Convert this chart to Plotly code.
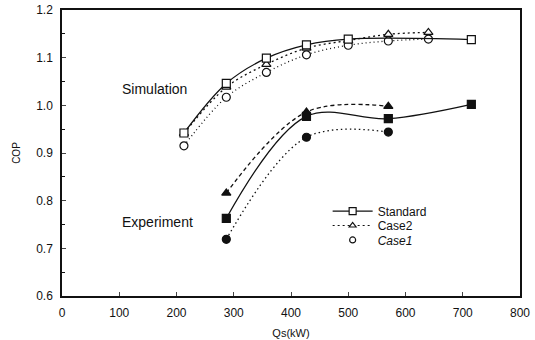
import plotly.graph_objects as go

# Simulation data
sim_std_x = [213, 287, 357, 427, 500, 715]
sim_std_y = [0.942, 1.046, 1.099, 1.127, 1.139, 1.138]
sim_c2_x = [213, 287, 357, 427, 500, 570, 640]
sim_c2_y = [0.941, 1.038, 1.086, 1.120, 1.136, 1.149, 1.153]
sim_c1_x = [213, 287, 357, 427, 500, 570, 640]
sim_c1_y = [0.915, 1.017, 1.069, 1.106, 1.126, 1.135, 1.139]

# Experiment data
exp_std_x = [287, 427, 570, 715]
exp_std_y = [0.763, 0.977, 0.972, 1.002]
exp_c2_x = [287, 427, 570]
exp_c2_y = [0.816, 0.986, 0.998]
exp_c1_x = [287, 427, 570]
exp_c1_y = [0.719, 0.933, 0.944]

x_ticks = [0, 100, 200, 300, 400, 500, 600, 700, 800]
y_ticks = [0.6, 0.7, 0.8, 0.9, 1.0, 1.1, 1.2]
y_tick_text = ["0.6", "0.7", "0.8", "0.9", "1.0", "1.1", "1.2"]
legend_names = ["Standard", "Case2", "Case1"]

FONT = "Liberation Sans, Arial, sans-serif"
BLACK = "#111111"

fig = go.Figure()

def add(x, y, symbol, filled, dash, name, size=8):
    fig.add_trace(go.Scatter(
        x=x, y=y, mode="lines+markers", name=name, showlegend=False,
        line=dict(color=BLACK, width=1.3, dash=dash, shape="spline", smoothing=1.0),
        marker=dict(symbol=symbol, size=size, color=BLACK if filled else "white",
                    line=dict(color=BLACK, width=1.2)),
    ))

add(sim_c1_x, sim_c1_y, "circle", False, "1px,3px", "Case1 sim")
add(sim_c2_x, sim_c2_y, "triangle-up", False, "2px,3px", "Case2 sim")
add(sim_std_x, sim_std_y, "square", False, "solid", "Standard sim")
add(exp_c1_x, exp_c1_y, "circle", True, "1.5px,3px", "Case1 exp")
add(exp_c2_x, exp_c2_y, "triangle-up", True, "4px,3px", "Case2 exp")
add(exp_std_x, exp_std_y, "square", True, "solid", "Standard exp")

# Legend-only entries, each in its own legend for tight spacing
fig.add_trace(go.Scatter(x=[None], y=[None], mode="lines+markers", name=legend_names[0],
                         legend="legend",
                         line=dict(color=BLACK, width=1.3),
                         marker=dict(symbol="square", size=7, color="white",
                                     line=dict(color=BLACK, width=1.2))))
fig.add_trace(go.Scatter(x=[None], y=[None], mode="lines+markers", name=legend_names[1],
                         legend="legend2",
                         line=dict(color=BLACK, width=1.2, dash="2px,3px"),
                         marker=dict(symbol="triangle-up", size=6, color="white",
                                     line=dict(color=BLACK, width=1.2))))
fig.add_trace(go.Scatter(x=[None], y=[None], mode="markers", name=legend_names[2],
                         legend="legend3",
                         marker=dict(symbol="circle", size=6, color="white",
                                     line=dict(color=BLACK, width=1.2))))

fig.add_annotation(x=162, y=1.034, text="Simulation", showarrow=False,
                   font=dict(family=FONT, size=14, color=BLACK))
fig.add_annotation(x=166, y=0.755, text="Experiment", showarrow=False,
                   font=dict(family=FONT, size=14, color=BLACK))

leg_common = dict(xanchor="left", yanchor="middle", bgcolor="rgba(0,0,0,0)",
                  itemwidth=40, borderwidth=0)
leg_font = dict(size=12, family=FONT, color=BLACK)

fig.update_layout(
    width=535, height=340,
    margin=dict(l=62, r=15, t=10, b=44),
    paper_bgcolor="white", plot_bgcolor="white",
    font=dict(family=FONT, size=12, color=BLACK),
    legend=dict(x=0.58, y=0.297, font=leg_font, **leg_common),
    legend2=dict(x=0.58, y=0.2465, font=leg_font, **leg_common),
    legend3=dict(x=0.58, y=0.196, font=dict(style="italic", **leg_font), **leg_common),
    xaxis=dict(range=[0, 800], tickvals=x_ticks, ticks="inside", ticklen=4,
               showline=True, linecolor=BLACK, linewidth=1.5, mirror=True,
               showgrid=False, zeroline=False, ticklabeloverflow="allow",
               automargin=False, ticklabelstandoff=5,
               title=dict(text="Qs(kW)", font=dict(size=11), standoff=10)),
    yaxis=dict(range=[0.6, 1.2], tickvals=y_ticks, ticktext=y_tick_text,
               ticks="inside", ticklen=4, automargin=False, ticklabelstandoff=5,
               minor=dict(dtick=0.05, ticks="inside", ticklen=3, tickcolor=BLACK),
               showline=True, linecolor=BLACK, linewidth=1.5, mirror=True,
               showgrid=False, zeroline=False,
               title=dict(text="COP", font=dict(size=10), standoff=14)),
)

fig.write_html("out.html", config={"displayModeBar": False},
               post_script="document.body.style.margin='0px';document.body.style.overflow='hidden';")
